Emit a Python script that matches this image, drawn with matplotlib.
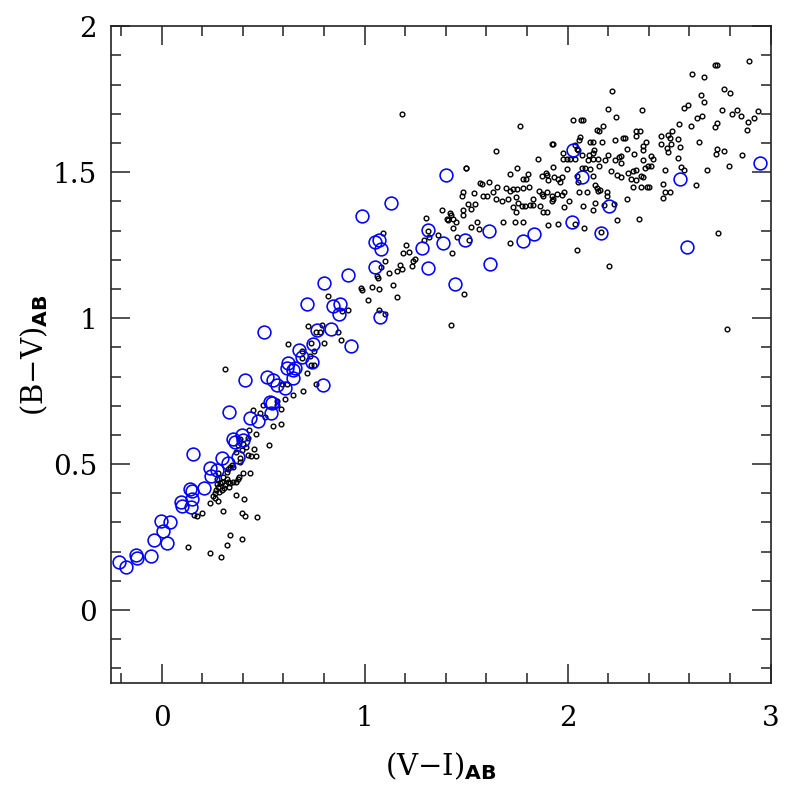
import numpy as np
import matplotlib
matplotlib.use('agg')
from matplotlib import pyplot as plt
from matplotlib.ticker import MultipleLocator

# field galaxies: (V-I)_AB, (B-V)_AB
field_vi = [
    0.550, 0.588, 0.465, 0.432, 0.427, 0.386, 0.402, 0.377, 0.415, 0.455, 0.530, 0.369, 0.394, 0.427, 0.443,
    0.465, 0.386, 0.386, 0.345, 0.336, 0.328, 0.353, 0.320, 0.402, 0.435, 0.279, 0.274, 0.303, 0.296, 0.320,
    0.328, 0.336, 0.312, 0.287, 0.271, 0.279, 0.353, 0.369, 0.377, 0.382, 0.333, 0.307, 0.296, 0.267, 0.263,
    0.284, 0.254, 0.263, 0.279, 0.238, 0.366, 0.405, 0.303, 0.394, 0.410, 0.468, 0.159, 0.175, 0.197, 0.336,
    0.394, 0.131, 0.241, 0.291, 0.320, 0.591, 0.616, 0.648, 0.607, 0.567, 0.567, 0.500, 0.448, 0.484, 0.509,
    0.588, 0.760, 0.698, 0.312,
    1.483, 1.478, 1.538, 1.510, 1.545, 1.522, 1.483, 1.486, 1.420, 1.424, 1.381, 1.404, 1.412, 1.436, 1.450,
    1.302, 1.552, 1.524, 1.564, 1.436, 1.312, 1.363, 1.318, 1.453, 1.515, 1.294, 1.092, 1.202, 1.220, 1.187,
    1.430, 1.099, 1.248, 1.239, 1.174, 1.233, 1.079, 1.182, 1.158, 1.121, 1.059, 1.067, 1.141, 0.980, 0.985,
    1.036, 1.070, 1.159, 1.016, 0.821, 0.887, 0.919, 1.072, 1.101, 1.424, 1.489, 0.722, 0.791, 0.760, 0.780,
    0.870, 0.883, 0.800, 0.734, 0.624, 0.693, 0.752, 0.731, 0.693, 0.734, 0.750, 0.714, 1.185, 1.499, 1.568,
    2.220, 2.199, 2.365, 2.238, 2.025, 2.064, 2.077, 1.765, 2.172, 2.146, 2.156, 2.336, 2.356, 2.335, 2.061,
    2.057, 2.274, 2.282, 2.233, 2.110, 2.123, 2.169, 2.386, 1.921, 1.926, 2.370, 2.036, 2.130, 2.047, 2.052,
    2.294, 2.370, 1.647, 2.103, 2.200, 2.126, 1.978, 2.069, 2.327, 2.263, 2.254, 2.410, 1.855, 1.978, 1.995,
    2.011, 2.036, 2.101, 2.126, 2.151, 2.184, 2.233, 2.370, 2.422, 2.263, 2.069, 2.085, 2.110, 1.995, 2.156,
    2.336, 2.397, 2.409, 1.501, 1.929, 1.752, 1.803, 1.781, 1.795, 1.716, 1.872, 1.893, 1.900, 1.933, 1.904,
    1.954, 1.973, 1.962, 2.047, 2.123, 2.212, 2.244, 2.263, 2.296, 2.320, 2.361, 2.372, 2.310, 2.336, 2.052,
    2.134, 2.143, 2.148, 2.159, 2.320, 2.361, 2.389, 2.400, 1.576, 1.614, 1.650, 1.634, 1.696, 1.716, 1.732,
    1.749, 1.778, 1.811, 1.859, 1.872, 1.880, 1.900, 1.921, 1.926, 1.949, 1.970, 1.982, 2.056, 2.094, 2.192,
    2.195, 1.581, 1.604, 1.647, 1.675, 1.707, 1.745, 1.828, 1.773, 1.790, 1.814, 1.831, 1.757, 1.732, 1.864,
    1.921, 2.005, 1.982, 2.077, 2.133, 2.126, 2.294, 1.877, 1.900, 1.745, 1.680, 1.740, 1.781, 1.901, 1.951,
    2.036, 2.082, 2.241, 2.353, 1.716, 2.163, 2.047,
    2.893, 2.727, 2.737, 2.611, 2.673, 2.771, 2.800, 2.655, 2.673, 2.594, 2.573, 2.759, 2.835, 2.939, 2.809,
    2.852, 2.663, 2.635, 2.918, 2.887, 2.734, 2.726, 2.550, 2.606, 2.882, 2.515, 2.496, 2.504, 2.460, 2.542,
    2.647, 2.458, 2.507, 2.488, 2.553, 2.734, 2.768, 2.729, 2.857, 2.494, 2.542, 2.381, 2.558, 2.574, 2.688,
    2.795, 2.479, 2.471, 2.631, 2.504, 2.481, 2.468, 2.179, 2.230, 2.740, 2.203, 2.786,
]
field_bv = [
    0.631, 0.638, 0.603, 0.617, 0.589, 0.586, 0.569, 0.566, 0.560, 0.552, 0.566, 0.543, 0.548, 0.531, 0.529,
    0.528, 0.520, 0.508, 0.497, 0.491, 0.482, 0.491, 0.474, 0.471, 0.471, 0.469, 0.448, 0.455, 0.440, 0.448,
    0.440, 0.434, 0.429, 0.434, 0.432, 0.423, 0.440, 0.440, 0.448, 0.457, 0.423, 0.417, 0.411, 0.411, 0.400,
    0.406, 0.391, 0.385, 0.375, 0.366, 0.394, 0.379, 0.340, 0.334, 0.323, 0.320, 0.326, 0.322, 0.334, 0.256,
    0.242, 0.215, 0.196, 0.183, 0.223, 0.775, 0.775, 0.737, 0.723, 0.717, 0.703, 0.703, 0.686, 0.676, 0.663,
    0.688, 0.775, 0.750, 0.825,
    1.432, 1.417, 1.428, 1.392, 1.392, 1.375, 1.369, 1.354, 1.362, 1.352, 1.369, 1.339, 1.337, 1.339, 1.329,
    1.343, 1.329, 1.314, 1.305, 1.308, 1.300, 1.286, 1.278, 1.278, 1.268, 1.268, 1.291, 1.251, 1.228, 1.223,
    1.225, 1.197, 1.203, 1.196, 1.183, 1.179, 1.175, 1.168, 1.162, 1.156, 1.146, 1.137, 1.115, 1.105, 1.095,
    1.107, 1.101, 1.074, 1.062, 1.076, 1.025, 1.028, 1.029, 1.014, 0.978, 1.084, 0.974, 0.978, 0.951, 0.952,
    0.954, 0.926, 0.914, 0.915, 0.911, 0.886, 0.888, 0.872, 0.865, 0.838, 0.838, 0.811, 1.700, 1.516, 1.463,
    1.779, 1.716, 1.712, 1.689, 1.679, 1.679, 1.679, 1.660, 1.660, 1.645, 1.640, 1.640, 1.640, 1.625, 1.620,
    1.609, 1.619, 1.619, 1.609, 1.605, 1.605, 1.602, 1.605, 1.596, 1.596, 1.591, 1.594, 1.577, 1.579, 1.575,
    1.579, 1.575, 1.573, 1.560, 1.560, 1.566, 1.566, 1.560, 1.563, 1.554, 1.552, 1.554, 1.547, 1.547, 1.547,
    1.545, 1.547, 1.543, 1.545, 1.545, 1.543, 1.543, 1.543, 1.545, 1.531, 1.514, 1.514, 1.511, 1.511, 1.520,
    1.506, 1.522, 1.522, 1.514, 1.519, 1.514, 1.494, 1.476, 1.476, 1.494, 1.488, 1.497, 1.491, 1.485, 1.472,
    1.476, 1.483, 1.468, 1.488, 1.488, 1.503, 1.491, 1.485, 1.497, 1.503, 1.488, 1.483, 1.476, 1.472, 1.466,
    1.457, 1.446, 1.437, 1.440, 1.448, 1.451, 1.451, 1.451, 1.460, 1.466, 1.448, 1.434, 1.446, 1.436, 1.442,
    1.442, 1.446, 1.448, 1.436, 1.426, 1.419, 1.434, 1.417, 1.408, 1.426, 1.423, 1.434, 1.434, 1.432, 1.417,
    1.434, 1.419, 1.419, 1.408, 1.400, 1.408, 1.415, 1.408, 1.383, 1.385, 1.388, 1.388, 1.394, 1.381, 1.386,
    1.400, 1.403, 1.381, 1.383, 1.396, 1.371, 1.408, 1.365, 1.365, 1.363, 1.331, 1.329, 1.329, 1.320, 1.322,
    1.323, 1.309, 1.337, 1.340, 1.258, 1.294, 1.234,
    1.882, 1.866, 1.868, 1.838, 1.827, 1.785, 1.773, 1.763, 1.741, 1.731, 1.720, 1.714, 1.712, 1.711, 1.698,
    1.691, 1.693, 1.686, 1.687, 1.673, 1.668, 1.655, 1.665, 1.657, 1.645, 1.640, 1.629, 1.619, 1.623, 1.614,
    1.602, 1.597, 1.597, 1.583, 1.586, 1.580, 1.573, 1.562, 1.560, 1.569, 1.548, 1.514, 1.519, 1.508, 1.509,
    1.520, 1.508, 1.459, 1.455, 1.432, 1.432, 1.413, 1.388, 1.391, 1.291, 1.180, 0.963,
]

# comparison sample (blue open circles)
ref_vi = [
    -0.209, -0.174, -0.127, -0.123, -0.053, -0.038, 0.028, 0.005, -0.003, 0.044, 0.095, 0.099, 0.144, 0.151,
    0.139, 0.148, 0.210, 0.238, 0.246, 0.274, 0.296, 0.325, 0.156, 0.377, 0.333, 0.350, 0.361, 0.394, 0.402,
    0.435, 0.476, 0.533, 0.545, 0.538, 0.567, 0.607, 0.410, 0.517, 0.550, 0.648, 0.504, 0.678, 0.624, 0.616,
    0.648, 0.657, 0.690, 0.739, 0.744, 0.767, 0.837, 0.714, 0.845, 0.878, 0.873, 0.931, 0.798, 0.916, 0.796,
    0.985, 1.130, 1.051, 1.072, 1.079, 1.052, 1.075, 1.310, 1.284, 1.384, 1.310, 1.445, 1.399, 1.496, 1.617,
    1.612, 1.781, 1.834, 2.028, 2.072, 2.020, 2.166, 2.203, 2.553, 2.589, 2.947,
]
ref_bv = [
    0.165, 0.146, 0.189, 0.177, 0.186, 0.240, 0.231, 0.271, 0.304, 0.303, 0.371, 0.357, 0.354, 0.380,
    0.414, 0.408, 0.417, 0.486, 0.459, 0.480, 0.520, 0.505, 0.535, 0.526, 0.678, 0.585, 0.577, 0.600, 0.583,
    0.657, 0.649, 0.714, 0.709, 0.674, 0.771, 0.760, 0.788, 0.799, 0.788, 0.794, 0.954, 0.891, 0.846, 0.831,
    0.823, 0.829, 0.868, 0.851, 0.910, 0.958, 0.963, 1.050, 1.042, 1.049, 1.014, 0.905, 1.119, 1.148, 0.771,
    1.351, 1.396, 1.261, 1.268, 1.237, 1.175, 1.003, 1.303, 1.242, 1.259, 1.171, 1.118, 1.490, 1.268, 1.185,
    1.297, 1.263, 1.290, 1.577, 1.485, 1.331, 1.293, 1.383, 1.477, 1.245, 1.533,
]

plt.rcParams['font.family'] = ['DejaVu Serif']
plt.rcParams['mathtext.fontset'] = 'custom'
plt.rcParams['mathtext.rm'] = 'DejaVu Serif'
plt.rcParams['mathtext.sf'] = 'DejaVu Sans:bold'

fig = plt.figure(figsize=(7.97, 7.97), dpi=100)
ax = fig.add_axes([0.139, 0.143, 0.828, 0.824])

ax.plot(field_vi, field_bv, 'o', ms=3.4, mfc='none', mec='black', mew=1.0, ls='none')
ax.plot(ref_vi, ref_bv, 'o', ms=9.2, mfc='none', mec='#0000ff', mew=1.15, ls='none')

ax.set_xlim(-0.25, 3)
ax.set_ylim(-0.25, 2)

ax.xaxis.set_major_locator(MultipleLocator(1))
ax.xaxis.set_minor_locator(MultipleLocator(0.2))
ax.yaxis.set_major_locator(MultipleLocator(0.5))
ax.yaxis.set_minor_locator(MultipleLocator(0.1))
ax.yaxis.set_major_formatter(plt.FuncFormatter(lambda v, p: '%g' % v))

ax.tick_params(which='both', direction='in', top=True, right=True, width=1.1, colors='#222222')
ax.tick_params(which='major', length=13.5)
ax.tick_params(which='minor', length=7)
ax.tick_params(axis='x', which='major', labelsize=20, pad=16, labelcolor='black')
ax.tick_params(axis='y', which='major', labelsize=20, pad=10, labelcolor='black')
for sp in ax.spines.values():
    sp.set_linewidth(1.2)
    sp.set_color('#222222')

ax.set_xlabel(r'(V$-$I)$_{\mathsf{AB}}$', fontsize=21, labelpad=13)
ax.set_ylabel(r'(B$-$V)$_{\mathsf{AB}}$', fontsize=21, labelpad=2)

fig.savefig('out.png', dpi=100)
